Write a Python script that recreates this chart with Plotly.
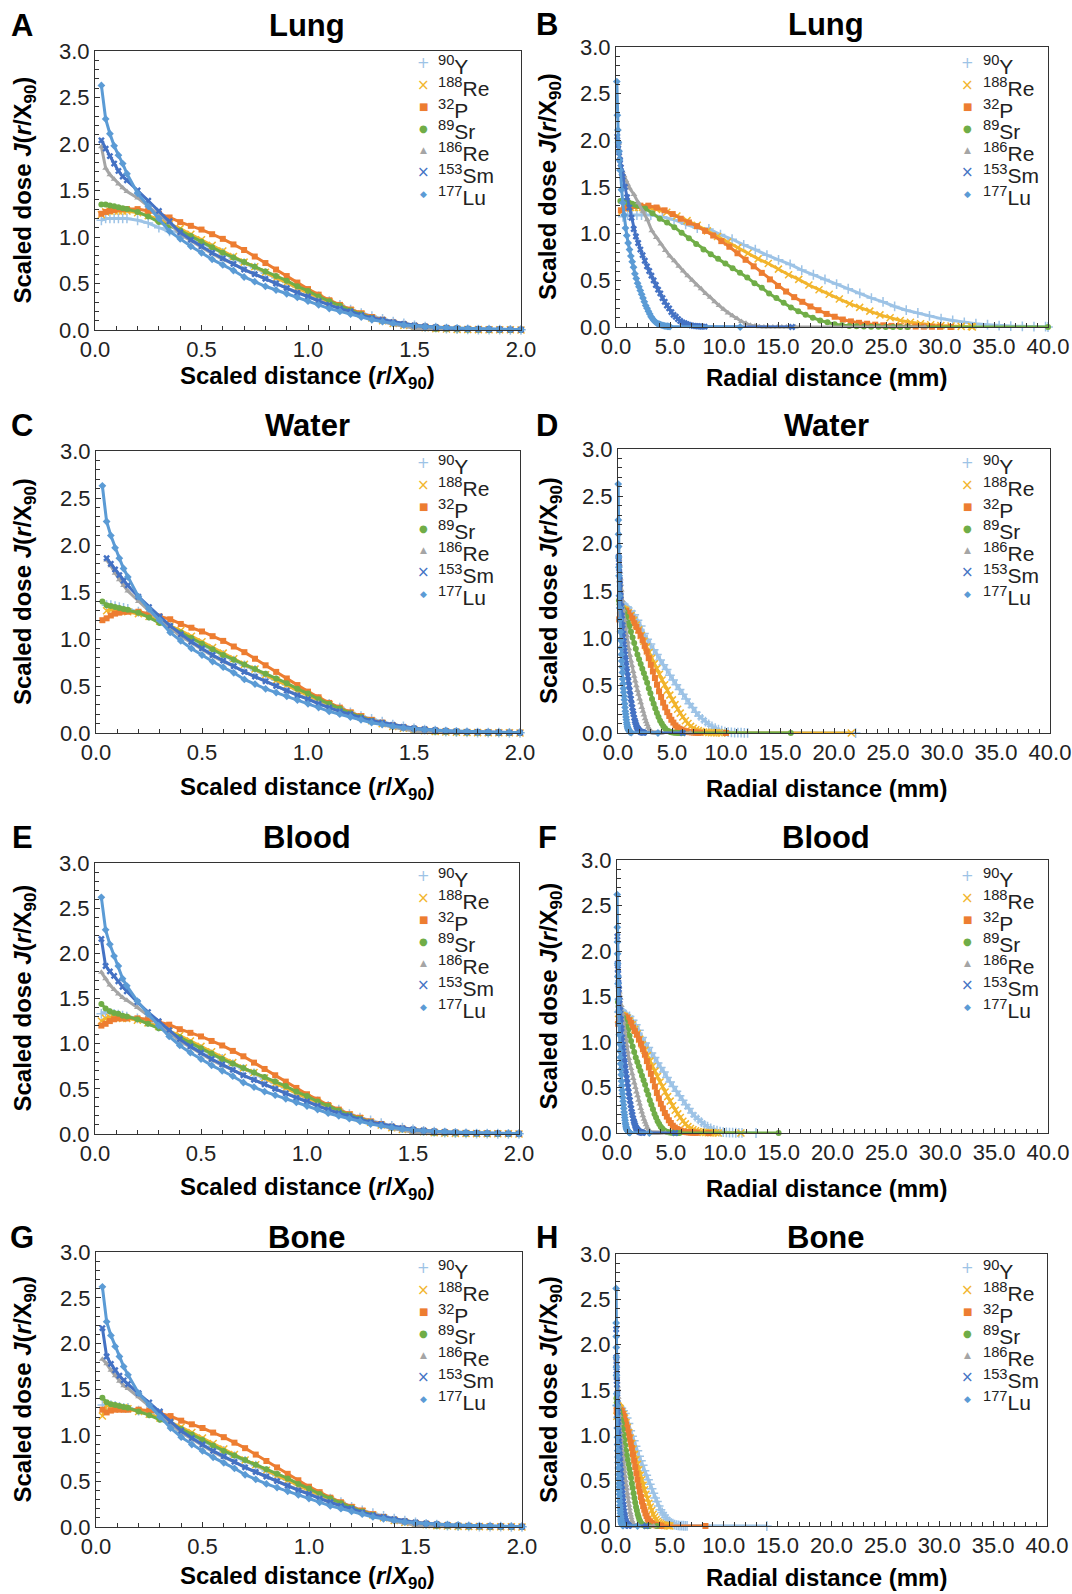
import plotly.graph_objects as go

W, H = 1072, 1594
FONT = "Arial, 'Liberation Sans', Helvetica, sans-serif"
SYMFONT = "'DejaVu Sans', sans-serif"

NUCLIDES = ["<sup>90</sup>Y", "<sup>188</sup>Re", "<sup>32</sup>P", "<sup>89</sup>Sr",
            "<sup>186</sup>Re", "<sup>153</sup>Sm", "<sup>177</sup>Lu"]
COLORS = ["#9DC3E6", "#F2B52D", "#ED7D31", "#70AD47", "#A5A5A5", "#4472C4", "#5B9BD5"]
SYMBOLS = ["cross-thin", "x-thin", "square", "circle", "triangle-up", "x", "diamond"]
LEGEND_GLYPHS = ["+", "×", "■", "●", "▲", "×", "◆"]
LEGEND_GLYPH_SIZE = [15, 15, 10, 10, 9, 15, 9]

MEDIA = ["Lung", "Water", "Blood", "Bone"]

# scaled distance r/X90 sample positions
S_HEAD = [0.03, 0.05, 0.07, 0.09, 0.11, 0.13, 0.15, 0.20, 0.25, 0.30, 0.35]
S_BODY = [0.40, 0.45, 0.50, 0.55, 0.60, 0.65, 0.70, 0.75, 0.80, 0.85, 0.90, 0.95,
          1.00, 1.05, 1.10, 1.15, 1.20, 1.25, 1.30, 1.35, 1.40, 1.45, 1.50, 1.55,
          1.60, 1.65, 1.70, 1.75, 1.80, 1.85, 1.90, 1.95, 2.00]

# J(r/X90) near the source, per medium (order as NUCLIDES)
HEAD_LUNG = [
    [1.18, 1.20, 1.20, 1.20, 1.20, 1.20, 1.20, 1.18, 1.15, 1.10, 1.06],
    [1.24, 1.27, 1.28, 1.28, 1.28, 1.28, 1.28, 1.26, 1.23, 1.19, 1.14],
    [1.25, 1.27, 1.28, 1.29, 1.30, 1.30, 1.30, 1.30, 1.28, 1.25, 1.21],
    [1.35, 1.35, 1.34, 1.33, 1.32, 1.31, 1.30, 1.27, 1.22, 1.16, 1.12],
    [1.97, 1.74, 1.67, 1.62, 1.57, 1.53, 1.49, 1.42, 1.33, 1.24, 1.15],
    [2.04, 1.95, 1.87, 1.79, 1.71, 1.65, 1.61, 1.50, 1.39, 1.28, 1.17],
    [2.63, 2.27, 2.11, 1.98, 1.88, 1.79, 1.68, 1.47, 1.33, 1.20, 1.06],
]
HEAD_WATER = [
    [None, 1.36, 1.36, 1.35, 1.34, 1.33, 1.32, 1.29, 1.25, 1.19, 1.13],
    [None, 1.30, 1.31, 1.31, 1.30, 1.30, 1.29, 1.27, 1.24, 1.19, 1.14],
    [1.20, 1.22, 1.25, 1.27, 1.28, 1.29, 1.29, 1.29, 1.27, 1.24, 1.21],
    [1.40, 1.36, 1.35, 1.34, 1.33, 1.32, 1.31, 1.28, 1.23, 1.17, 1.13],
    [None, 1.84, 1.78, 1.70, 1.63, 1.57, 1.51, 1.40, 1.30, 1.20, 1.11],
    [None, 1.86, 1.80, 1.74, 1.68, 1.62, 1.57, 1.45, 1.34, 1.24, 1.14],
    [2.63, 2.25, 2.10, 1.97, 1.86, 1.75, 1.66, 1.45, 1.32, 1.20, 1.07],
]
HEAD_BLOOD = [
    [1.33, 1.35, 1.34, 1.33, 1.32, 1.31, 1.30, 1.28, 1.24, 1.19, 1.13],
    [1.25, 1.28, 1.29, 1.29, 1.29, 1.28, 1.28, 1.26, 1.23, 1.19, 1.14],
    [1.20, 1.22, 1.25, 1.27, 1.28, 1.28, 1.28, 1.28, 1.27, 1.24, 1.21],
    [1.44, 1.39, 1.36, 1.34, 1.33, 1.31, 1.30, 1.27, 1.22, 1.17, 1.13],
    [1.79, 1.72, 1.65, 1.60, 1.55, 1.51, 1.48, 1.40, 1.31, 1.22, 1.13],
    [2.16, 1.86, 1.80, 1.75, 1.69, 1.63, 1.58, 1.46, 1.35, 1.25, 1.15],
    [2.62, 2.26, 2.10, 1.97, 1.86, 1.72, 1.64, 1.47, 1.33, 1.20, 1.08],
]
HEAD_BONE = [
    [1.33, 1.33, 1.33, 1.32, 1.31, 1.30, 1.30, 1.27, 1.24, 1.19, 1.13],
    [1.21, 1.33, 1.32, 1.31, 1.30, 1.30, 1.29, 1.26, 1.23, 1.19, 1.14],
    [1.28, 1.25, 1.27, 1.28, 1.28, 1.28, 1.28, 1.28, 1.27, 1.24, 1.21],
    [1.41, 1.36, 1.34, 1.33, 1.32, 1.31, 1.30, 1.26, 1.22, 1.17, 1.13],
    [1.83, 1.78, 1.71, 1.65, 1.59, 1.54, 1.51, 1.42, 1.32, 1.22, 1.13],
    [2.17, 1.86, 1.78, 1.71, 1.65, 1.60, 1.56, 1.46, 1.36, 1.26, 1.15],
    [2.62, 2.24, 2.09, 1.97, 1.86, 1.75, 1.66, 1.46, 1.33, 1.20, 1.08],
]

# J(r/X90) for r/X90 >= 0.4 (nearly identical in all media)
BODY_Y90 = [1.05, 0.99, 0.94, 0.88, 0.83, 0.77, 0.72, 0.67, 0.61, 0.56, 0.51, 0.46, 0.41, 0.36, 0.31, 0.27, 0.22,
            0.18, 0.15, 0.12, 0.09, 0.07, 0.05, 0.035, 0.025, 0.015, 0.01, 0.007, 0.005, 0.004, 0.003, 0.002, 0.002]
BODY_RE188 = [1.09, 1.03, 0.97, 0.91, 0.85, 0.79, 0.73, 0.68, 0.62, 0.56, 0.51, 0.45, 0.40, 0.35, 0.30, 0.25, 0.21,
              0.17, 0.13, 0.10, 0.07, 0.05, 0.035, 0.025, 0.015, 0.01, 0.007, 0.005, 0.004, 0.003, 0.002, 0.002, 0.001]
BODY_P32 = [1.16, 1.12, 1.08, 1.03, 0.98, 0.92, 0.86, 0.79, 0.72, 0.65, 0.58, 0.51, 0.44, 0.38, 0.32, 0.27, 0.22,
            0.18, 0.14, 0.11, 0.08, 0.06, 0.045, 0.035, 0.025, 0.018, 0.012, 0.009, 0.007, 0.005, 0.004, 0.003, 0.002]
BODY_SR89 = [1.07, 1.01, 0.95, 0.89, 0.83, 0.78, 0.73, 0.68, 0.63, 0.58, 0.53, 0.47, 0.42, 0.36, 0.31, 0.26, 0.21,
             0.17, 0.13, 0.10, 0.07, 0.05, 0.03, 0.02, 0.012, 0.008, 0.005, 0.003, 0.002, 0.001, 0.001, 0.0, 0.0]
BODY_RE186 = [1.03, 0.96, 0.89, 0.82, 0.76, 0.71, 0.65, 0.60, 0.55, 0.50, 0.45, 0.41, 0.36, 0.32, 0.27, 0.23, 0.19,
              0.15, 0.12, 0.09, 0.06, 0.04, 0.02, 0.01, 0.004, 0.001, 0.0, 0.0, 0.0, 0.0, 0.0, 0.0, 0.0]
BODY_SM153 = [1.05, 0.97, 0.90, 0.83, 0.77, 0.71, 0.65, 0.60, 0.55, 0.50, 0.45, 0.40, 0.36, 0.31, 0.27, 0.23, 0.20,
              0.16, 0.13, 0.11, 0.085, 0.065, 0.05, 0.04, 0.03, 0.022, 0.017, 0.012, 0.01, 0.008, 0.006, 0.004, 0.003]
BODY_LU177 = [0.98, 0.90, 0.83, 0.76, 0.70, 0.64, 0.57, 0.52, 0.47, 0.43, 0.39, 0.35, 0.31, 0.27, 0.23, 0.20, 0.17,
              0.14, 0.11, 0.09, 0.07, 0.055, 0.045, 0.035, 0.03, 0.025, 0.02, 0.015, 0.012, 0.01, 0.008, 0.006, 0.005]
BODIES = [BODY_Y90, BODY_RE188, BODY_P32, BODY_SR89, BODY_RE186, BODY_SM153, BODY_LU177]

# X90 (mm) per medium, NUCLIDES order
X90_LUNG = [21.5, 18.8, 15.0, 13.5, 8.3, 4.1, 2.5]
X90_WATER = [6.0, 4.8, 3.8, 3.0, 2.0, 1.2, 0.62]
X90_BLOOD = [5.8, 4.7, 3.7, 2.9, 2.0, 1.2, 0.60]
X90_BONE = [3.3, 2.65, 2.1, 1.55, 1.05, 0.6, 0.33]

# radial extent (mm) of the tabulated zero-dose tail
TAIL_LUNG = [40.0, 33.0, 31.0, 40.0, 28.6, 16.3, 11.5]
TAIL_WATER = [22.0, 21.6, 10.0, 16.0, 6.7, 6.0, 3.7]
TAIL_BLOOD = [12.9, 11.5, 8.5, 15.0, 4.5, 5.4, 3.0]
TAIL_BONE = [14.0, 5.0, 8.3, 3.8, 3.5, 2.8, 2.0]

HEADS = [HEAD_LUNG, HEAD_WATER, HEAD_BLOOD, HEAD_BONE]
X90S = [X90_LUNG, X90_WATER, X90_BLOOD, X90_BONE]
TAILS = [TAIL_LUNG, TAIL_WATER, TAIL_BLOOD, TAIL_BONE]

# ---------------- layout geometry (pixels) ----------------
LETTERS = ["A", "B", "C", "D", "E", "F", "G", "H"]
BOX = {  # left, right, top, bottom of plot areas
    "A": (95, 521, 51, 330), "B": (616, 1048, 47, 327),
    "C": (96, 520, 451, 733), "D": (618, 1050, 449, 733),
    "E": (95, 519, 863, 1134), "F": (617, 1048, 860, 1133),
    "G": (96, 522, 1252, 1527), "H": (616, 1047, 1254, 1526),
}
TITLE_Y = {"A": 26, "B": 25, "C": 425, "D": 425, "E": 838, "F": 838, "G": 1237, "H": 1237}
XTITLE_Y = {"A": 378, "B": 378, "C": 788, "D": 788, "E": 1188, "F": 1188, "G": 1577, "H": 1577}
LEG_Y0 = {"A": 63, "B": 63, "C": 463, "D": 463, "E": 876, "F": 876, "G": 1268, "H": 1268}
LEG_STEP = 21.8


def px(x):
    return x / W


def py(y):
    return 1 - y / H


fig = go.Figure()
layout = dict(
    width=W, height=H, margin=dict(l=0, r=0, t=0, b=0, autoexpand=False),
    paper_bgcolor="white", plot_bgcolor="white",
    font=dict(family=FONT, color="#000"),
    showlegend=False,
)
annotations = []

for m, medium in enumerate(MEDIA):
    for side in range(2):
        idx = 2 * m + side
        L = LETTERS[idx]
        n = idx + 1
        xa = "x" if n == 1 else f"x{n}"
        ya = "y" if n == 1 else f"y{n}"
        left, right, top, bottom = BOX[L]

        for k in range(len(NUCLIDES)):
            s_all = S_HEAD + S_BODY
            y_all = HEADS[m][k] + BODIES[k]
            pts = [(s, v) for s, v in zip(s_all, y_all) if v is not None]
            if side == 0:
                xs = [p[0] for p in pts]
                ys = [p[1] for p in pts]
            else:
                tail = min(TAILS[m][k], 40.0)
                xs, ys = [], []
                for s, v in pts:
                    r = s * X90S[m][k]
                    if r <= tail:
                        xs.append(r)
                        ys.append(v)
                if tail > xs[-1]:
                    xs.append(tail)
                    ys.append(0.0)
            sym = SYMBOLS[k]
            thin = sym.endswith("thin")
            marker = dict(symbol=sym, size=6 if not thin else 7, color=COLORS[k],
                          line=dict(width=1.5 if thin else 0, color=COLORS[k]))
            fig.add_trace(go.Scatter(
                x=xs, y=ys, mode="lines+markers", xaxis=xa, yaxis=ya, name=NUCLIDES[k],
                line=dict(color=COLORS[k], width=3), marker=marker,
                showlegend=False, cliponaxis=False, hoverinfo="skip"))

        xdom = [px(left), px(right)]
        ydom = [py(bottom), py(top)]
        common = dict(
            showline=True, linecolor="#333", linewidth=1, mirror=True,
            ticks="inside", ticklen=5, tickcolor="#333", showgrid=False, zeroline=False,
            tickfont=dict(size=22, color="#222", family=FONT), tickformat=".1f",
            automargin=False,
        )
        if side == 0:
            xcfg = dict(domain=xdom, range=[0, 2], dtick=0.5, tick0=0,
                        minor=dict(dtick=0.1, ticks="inside", ticklen=4, tickcolor="#333"), **common)
        else:
            xcfg = dict(domain=xdom, range=[0, 40], dtick=5, tick0=0,
                        minor=dict(dtick=1, ticks="inside", ticklen=4, tickcolor="#333"), **common)
        ycfg = dict(domain=ydom, range=[0, 3], dtick=0.5, tick0=0,
                    minor=dict(dtick=0.1, ticks="inside", ticklen=4, tickcolor="#333"), **common)
        xcfg["anchor"] = ya
        ycfg["anchor"] = xa
        layout["xaxis" if n == 1 else f"xaxis{n}"] = xcfg
        layout["yaxis" if n == 1 else f"yaxis{n}"] = ycfg

        # legend drawn as glyph + label text
        gx = 423 if side == 0 else 967
        tx = 436 if side == 0 else 981
        for k in range(len(NUCLIDES)):
            ry = LEG_Y0[L] + k * LEG_STEP
            annotations.append(dict(text=LEGEND_GLYPHS[k], x=px(gx), y=py(ry),
                                    xref="paper", yref="paper", showarrow=False,
                                    xanchor="center", yanchor="middle",
                                    font=dict(size=LEGEND_GLYPH_SIZE[k], family=SYMFONT, color=COLORS[k])))
            annotations.append(dict(text=NUCLIDES[k], x=px(tx), y=py(ry + 2),
                                    xref="paper", yref="paper", showarrow=False,
                                    xanchor="left", yanchor="middle",
                                    font=dict(size=21, family=FONT, color="#222")))

        # panel letter
        letter_x = 22 if side == 0 else 547
        annotations.append(dict(text=f"<b>{L}</b>", x=px(letter_x), y=py(TITLE_Y[L]),
                                xref="paper", yref="paper", showarrow=False,
                                xanchor="center", yanchor="middle",
                                font=dict(size=31, family=FONT, color="#000")))
        # medium title
        title_x = 307 if side == 0 else 826
        annotations.append(dict(text=f"<b>{medium}</b>", x=px(title_x), y=py(TITLE_Y[L]),
                                xref="paper", yref="paper", showarrow=False,
                                xanchor="center", yanchor="middle",
                                font=dict(size=31, family=FONT, color="#000")))
        # x axis title
        xt_x = 307 if side == 0 else 826
        xt = ("<b>Scaled distance (<i>r</i>/<i>X</i><sub>90</sub>)</b>" if side == 0
              else "<b>Radial distance (mm)</b>")
        annotations.append(dict(text=xt, x=px(xt_x), y=py(XTITLE_Y[L]),
                                xref="paper", yref="paper", showarrow=False,
                                xanchor="center", yanchor="middle",
                                font=dict(size=24, family=FONT, color="#000")))
        # y axis title
        ytx = 24 if side == 0 else 550
        annotations.append(dict(text="<b>Scaled dose <i>J</i>(<i>r</i>/X<sub>90</sub>)</b>",
                                x=px(ytx), y=py((top + bottom) / 2),
                                xref="paper", yref="paper", showarrow=False, textangle=-90,
                                xanchor="center", yanchor="middle",
                                font=dict(size=24, family=FONT, color="#000")))

layout["annotations"] = annotations
fig.update_layout(**layout)
fig.write_html("out.html",
               post_script="document.body.style.margin='0px';document.body.style.padding='0px';")
